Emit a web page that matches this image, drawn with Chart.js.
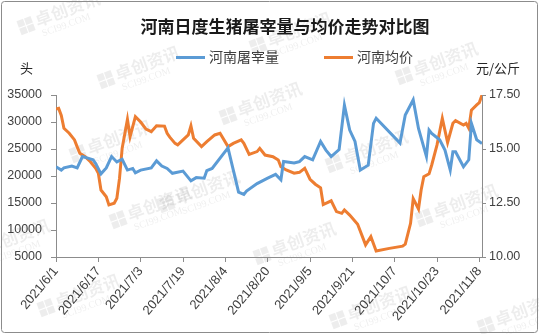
<!DOCTYPE html>
<html>
<head>
<meta charset="utf-8">
<script src="https://cdn.jsdelivr.net/npm/chart.js@4/dist/chart.umd.min.js"></script>
<style>
  html, body { margin: 0; background: #fff; }
</style>
</head>
<body>
<canvas id="chart" width="539" height="334"></canvas>
<script>
// --- Data: Henan daily hog slaughter (head) and average price (yuan/kg), 2021 ---
const slaughterDates = ["6/1","6/3","6/4","6/7","6/9","6/11","6/13","6/15","6/16","6/18","6/20","6/22","6/24","6/26","6/28","6/30","7/1","7/3","7/7","7/9","7/11","7/13","7/15","7/19","7/22","7/24","7/27","7/28","7/30","8/5","8/9","8/11","8/12","8/16","8/20","8/23","8/25","8/26","8/30","9/1","9/3","9/6","9/9","9/11","9/13","9/16","9/18","9/20","9/22","9/24","9/27","9/29","9/30","10/9","10/11","10/14","10/16","10/19","10/20","10/21","10/24","10/26","10/28","10/29","10/30","11/2","11/4","11/5","11/7","11/9"];
const slaughterValues = [21700,21100,21500,21850,21500,23600,23300,23000,22300,20400,21500,23600,22600,23100,21100,21400,20600,21100,21500,22800,21850,21400,20500,20900,19100,19700,19600,21000,21400,25200,17000,16600,17200,18600,19600,20300,19300,22700,22400,22650,23600,23000,26400,24800,23600,24900,33100,28500,26400,21100,22000,29750,30700,26100,31300,34100,28800,23600,28500,27900,26700,24800,21100,24500,24500,21700,23000,29750,26700,26000];

const priceDates = ["6/1","6/2","6/3","6/4","6/6","6/8","6/9","6/10","6/12","6/14","6/16","6/17","6/18","6/20","6/21","6/23","6/24","6/25","6/26","6/28","6/29","7/1","7/3","7/5","7/7","7/9","7/12","7/13","7/14","7/16","7/17","7/21","7/22","7/23","7/26","7/28","7/31","8/2","8/5","8/7","8/10","8/11","8/13","8/16","8/17","8/19","8/22","8/24","8/25","8/27","8/30","9/1","9/3","9/5","9/7","9/9","9/10","9/13","9/15","9/17","9/18","9/20","9/23","9/26","9/28","9/30","10/5","10/10","10/11","10/13","10/14","10/16","10/17","10/18","10/20","10/21","10/23","10/25","10/27","10/29","10/30","11/2","11/3","11/4","11/5","11/7","11/8","11/9"];
const priceValues = [16.85,16.88,16.55,15.96,15.73,15.42,15.10,14.80,14.64,14.41,14.11,13.88,13.10,12.79,12.41,12.49,12.72,13.64,15.03,16.37,15.57,16.50,16.25,15.92,15.80,16.08,16.06,15.73,15.55,15.26,15.19,15.65,16.07,15.50,15.11,15.34,15.65,15.73,15.11,15.26,15.42,15.26,14.75,14.88,15.03,14.72,14.64,14.49,14.18,14.03,13.88,13.92,14.11,13.60,13.37,13.20,12.43,12.60,12.10,12.02,12.18,11.94,11.52,10.56,10.94,10.28,10.40,10.50,10.60,11.56,12.70,12.22,13.10,13.72,13.85,14.26,15.19,16.42,15.30,16.19,16.31,16.11,16.19,15.96,16.80,17.04,17.15,17.50];

const seriesNames = ["河南屠宰量", "河南均价"];
const seriesColors = ["#5B9BD5", "#ED7D31"];
const leftTicks = [5000, 35000, 5000];   // min, max, step
const rightTicks = [10, 17.5, 2.5];

// day offsets from 2021/6/1
const startDate = new Date(2021, 5, 1);
const DAY = 86400000;
function toDay(s) {
  const [m, d] = s.split("/").map(Number);
  return Math.round((new Date(2021, m - 1, d) - startDate) / DAY);
}
function dayLabel(v) {
  const dt = new Date(startDate.getTime() + v * DAY);
  return "2021/" + (dt.getMonth() + 1) + "/" + dt.getDate();
}
const lastDay = toDay("11/9");

const cjk = "'Noto Sans CJK SC', 'Noto Sans', sans-serif";
const numFont = "'Liberation Sans', 'DejaVu Sans', sans-serif";

// faint "卓创资讯" stamps behind the lines
const marks = [
  [60, 18], [292, 38], [140, 72], [438, 68], [262, 108], [112, 146],
  [152, 212], [200, 196], [368, 156], [458, 210], [296, 248], [80, 300],
  [372, 312], [10, 245], [520, 318]
];

const framePlugin = {
  id: "frame",
  beforeDraw(chart) {
    const ctx = chart.ctx;
    ctx.save();
    ctx.fillStyle = "#fff";
    ctx.fillRect(0, 0, chart.width, chart.height);
    marks.forEach(([x, y]) => {
      ctx.save();
      ctx.translate(x, y);
      ctx.rotate(-0.35);
      ctx.fillStyle = "rgba(0,0,0,0.07)";
      ctx.fillRect(-42, -12, 7, 7);
      ctx.fillRect(-34, -12, 7, 7);
      ctx.fillRect(-42, -4, 7, 7);
      ctx.fillRect(-34, -4, 7, 7);
      ctx.font = "bold 17px " + cjk;
      ctx.textBaseline = "middle";
      ctx.fillText("卓创资讯", -24, -6);
      ctx.font = "10px 'Liberation Serif', serif";
      ctx.fillText("SCI99.COM", -22, 9);
      ctx.restore();
    });
    ctx.restore();
  },
  afterDraw(chart) {
    const ctx = chart.ctx;
    ctx.save();
    ctx.textBaseline = "middle";

    // title
    ctx.fillStyle = "#1a1a1a";
    ctx.font = "bold 17px " + cjk;
    ctx.textAlign = "center";
    ctx.fillText("河南日度生猪屠宰量与均价走势对比图", 285, 27);

    // legend
    ctx.font = "14px " + cjk;
    ctx.textAlign = "left";
    const legendX = [176, 324];
    chart.data.datasets.forEach((ds, i) => {
      ctx.fillStyle = ds.borderColor;
      ctx.fillRect(legendX[i], 56, 29, 3);
      ctx.fillStyle = "#404040";
      ctx.fillText(ds.label, legendX[i] + 33, 57);
    });

    // unit labels over the two value axes
    ctx.fillStyle = "#262626";
    ctx.font = "13px " + cjk;
    ctx.fillText("头", 20, 68);
    ctx.fillText("元/公斤", 476, 68);

    // outer frame
    ctx.strokeStyle = "#8c8c8c";
    ctx.lineWidth = 1;
    ctx.beginPath();
    ctx.roundRect(1.5, 1.5, chart.width - 3, chart.height - 3, 3);
    ctx.stroke();
    ctx.restore();
  }
};

const axisLine = { color: "#8c8c8c", width: 1 };

new Chart(document.getElementById("chart"), {
  type: "line",
  data: {
    datasets: [
      {
        label: seriesNames[0],
        data: slaughterDates.map((d, i) => ({ x: toDay(d), y: slaughterValues[i] })),
        borderColor: seriesColors[0],
        borderWidth: 3,
        pointRadius: 0,
        tension: 0,
        yAxisID: "y"
      },
      {
        label: seriesNames[1],
        data: priceDates.map((d, i) => ({ x: toDay(d), y: priceValues[i] })),
        borderColor: seriesColors[1],
        borderWidth: 3,
        pointRadius: 0,
        tension: 0,
        yAxisID: "y1"
      }
    ]
  },
  options: {
    responsive: false,
    animation: false,
    layout: { padding: { left: 0, right: 0, top: 95, bottom: 0 } },
    plugins: {
      title: { display: false },
      legend: { display: false },
      tooltip: { enabled: false }
    },
    scales: {
      x: {
        type: "linear",
        min: 0,
        max: lastDay,
        afterBuildTicks: s => {
          const t = [];
          for (let v = 0; v <= lastDay; v += 16) t.push({ value: v });
          s.ticks = t;
        },
        afterFit: s => { s.height = 77; },
        ticks: {
          autoSkip: false,
          minRotation: 50,
          maxRotation: 50,
          color: "#404040",
          font: { family: numFont, size: 13 },
          padding: 2,
          callback: v => dayLabel(v)
        },
        grid: { drawOnChartArea: false, drawTicks: true, tickLength: 5, color: "#8c8c8c" },
        border: axisLine
      },
      y: {
        position: "left",
        min: leftTicks[0],
        max: leftTicks[1],
        afterFit: s => { s.width = 56; },
        ticks: {
          stepSize: leftTicks[2],
          color: "#404040",
          font: { family: numFont, size: 12.5 },
          padding: 9,
          callback: v => String(v)
        },
        grid: { drawOnChartArea: false, drawTicks: true, tickLength: 5, color: "#8c8c8c" },
        border: axisLine
      },
      y1: {
        position: "right",
        min: rightTicks[0],
        max: rightTicks[1],
        afterFit: s => { s.width = 57; },
        ticks: {
          stepSize: rightTicks[2],
          color: "#404040",
          font: { family: numFont, size: 12.5 },
          padding: 3,
          callback: v => v.toFixed(2)
        },
        grid: { drawOnChartArea: false, drawTicks: true, tickLength: 4, color: "#8c8c8c" },
        border: axisLine
      }
    }
  },
  plugins: [framePlugin]
});
</script>
</body>
</html>
